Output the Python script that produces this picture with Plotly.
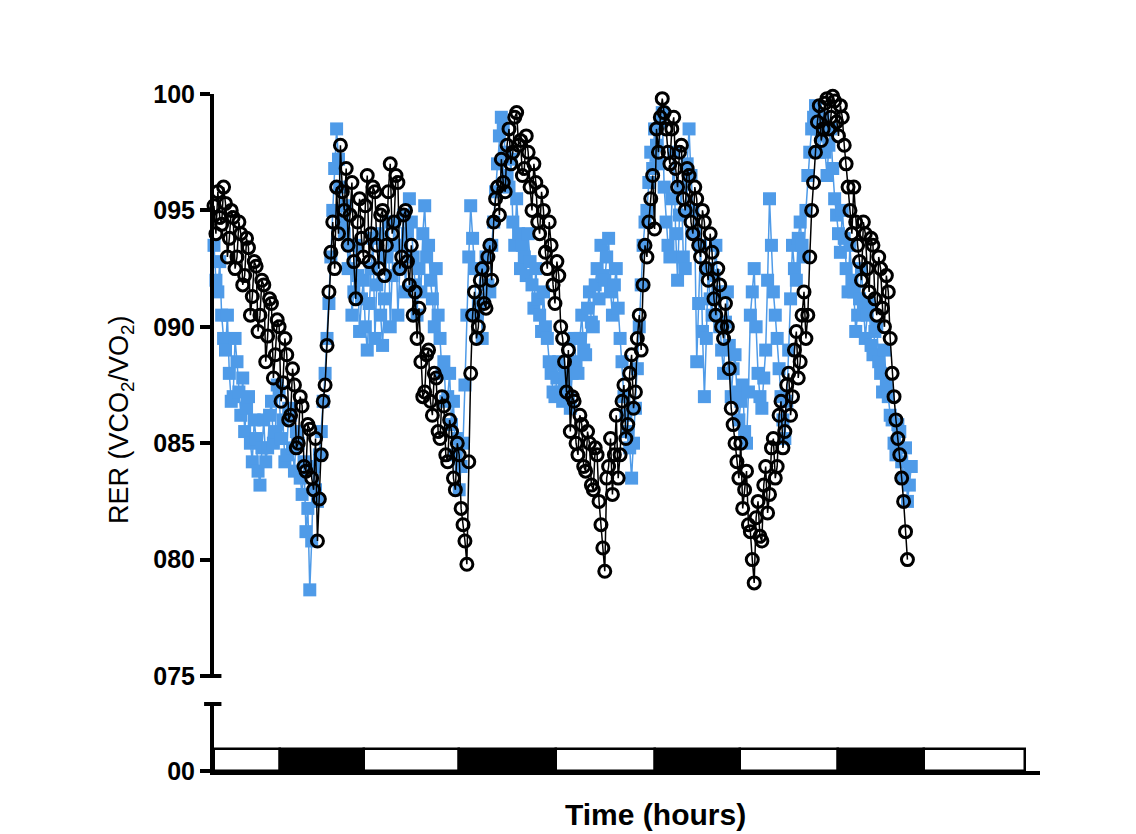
import plotly.graph_objects as go

# sampling interval of the RER recordings (hours)
step_h = 0.25

# RER, group drawn with blue squares
rer_blue = [
    0.935, 0.920, 0.915, 0.928, 0.905, 0.895, 0.890, 0.905, 0.880, 0.868,
    0.870, 0.895, 0.885, 0.872, 0.862, 0.878, 0.855, 0.865, 0.870, 0.850,
    0.842, 0.860, 0.852, 0.838, 0.832, 0.848, 0.860, 0.842, 0.848, 0.862,
    0.868, 0.850, 0.855, 0.875, 0.872, 0.852, 0.860, 0.842, 0.845, 0.865,
    0.862, 0.848, 0.838, 0.855, 0.850, 0.835, 0.828, 0.842, 0.812, 0.822,
    0.787, 0.808, 0.840, 0.830, 0.825, 0.845, 0.855, 0.868, 0.880, 0.895,
    0.910, 0.930, 0.950, 0.968, 0.985, 0.972, 0.960, 0.945, 0.940, 0.952,
    0.925, 0.935, 0.905, 0.915, 0.935, 0.922, 0.898, 0.912, 0.920, 0.900,
    0.890, 0.910, 0.925, 0.938, 0.895, 0.918, 0.940, 0.905, 0.892, 0.912,
    0.930, 0.945, 0.900, 0.922, 0.945, 0.935, 0.905, 0.925, 0.935, 0.948,
    0.915, 0.940, 0.955, 0.945, 0.930, 0.918, 0.905, 0.925, 0.915, 0.940,
    0.952, 0.930, 0.935, 0.920, 0.912, 0.900, 0.925, 0.905, 0.895, 0.880,
    0.885, 0.868, 0.870, 0.880, 0.858, 0.868, 0.845, 0.852, 0.830, 0.840,
    0.850, 0.875, 0.905, 0.930, 0.952, 0.938, 0.925, 0.905, 0.910, 0.925,
    0.895, 0.912, 0.930, 0.918, 0.915, 0.935, 0.945, 0.958, 0.970, 0.982,
    0.990, 0.985, 0.975, 0.965, 0.960, 0.972, 0.945, 0.935, 0.955, 0.940,
    0.925, 0.935, 0.930, 0.922, 0.940, 0.928, 0.918, 0.908, 0.925, 0.912,
    0.905, 0.898, 0.915, 0.900, 0.895, 0.885, 0.880, 0.872, 0.870, 0.878,
    0.885, 0.872, 0.868, 0.875, 0.880, 0.870, 0.865, 0.880, 0.895, 0.885,
    0.880, 0.895, 0.905, 0.890, 0.888, 0.908, 0.915, 0.902, 0.900, 0.918,
    0.925, 0.912, 0.935, 0.922, 0.920, 0.930, 0.938, 0.915, 0.905, 0.918,
    0.925, 0.908, 0.895, 0.885, 0.870, 0.862, 0.855, 0.848, 0.835, 0.850,
    0.865, 0.882, 0.900, 0.918, 0.935, 0.945, 0.950, 0.962, 0.975, 0.968,
    0.985, 0.978, 0.970, 0.988, 0.992, 0.960, 0.945, 0.935, 0.930, 0.955,
    0.975, 0.940, 0.920, 0.948, 0.960, 0.930, 0.925, 0.970, 0.985, 0.965,
    0.950, 0.940, 0.885, 0.910, 0.935, 0.898, 0.870, 0.895, 0.925, 0.912,
    0.905, 0.922, 0.935, 0.915, 0.900, 0.890, 0.880, 0.902, 0.915, 0.892,
    0.870, 0.882, 0.888, 0.872, 0.860, 0.868, 0.875, 0.855, 0.850, 0.872,
    0.905, 0.915, 0.925, 0.900, 0.880, 0.870, 0.865, 0.878, 0.890, 0.920,
    0.955, 0.935, 0.915, 0.905, 0.895, 0.882, 0.870, 0.860, 0.852, 0.868,
    0.890, 0.912, 0.935, 0.925, 0.920, 0.938, 0.945, 0.935, 0.930, 0.950,
    0.965, 0.975, 0.985, 0.990, 0.995, 0.985, 0.975, 0.982, 0.990, 0.975,
    0.965, 0.978, 0.985, 0.968, 0.955, 0.948, 0.940, 0.932, 0.950, 0.938,
    0.925, 0.915, 0.935, 0.920, 0.915, 0.898, 0.905, 0.912, 0.925, 0.908,
    0.895, 0.905, 0.910, 0.892, 0.888, 0.898, 0.900, 0.885, 0.880, 0.872,
    0.890, 0.875, 0.870, 0.862, 0.860, 0.850, 0.845, 0.858, 0.855, 0.842,
    0.835, 0.848, 0.825, 0.832, 0.840,
]

# RER, group drawn with open black circles
rer_black = [
    0.952, 0.940, 0.958, 0.947, 0.944, 0.960, 0.953, 0.930, 0.938, 0.950,
    0.947, 0.925, 0.930, 0.945, 0.940, 0.918, 0.922, 0.938, 0.934, 0.905,
    0.913, 0.928, 0.926, 0.898, 0.905, 0.920, 0.918, 0.885, 0.896, 0.912,
    0.910, 0.878, 0.888, 0.903, 0.900, 0.868, 0.876, 0.895, 0.888, 0.860,
    0.862, 0.882, 0.875, 0.848, 0.850, 0.870, 0.866, 0.840, 0.838, 0.858,
    0.856, 0.835, 0.830, 0.852, 0.808, 0.826, 0.845, 0.868, 0.875, 0.892,
    0.915, 0.932, 0.945, 0.925, 0.960, 0.940, 0.978, 0.958, 0.950, 0.968,
    0.935, 0.948, 0.962, 0.928, 0.912, 0.945, 0.955, 0.938, 0.930, 0.952,
    0.965, 0.928, 0.940, 0.960, 0.958, 0.935, 0.925, 0.948, 0.950, 0.922,
    0.935, 0.958, 0.970, 0.940, 0.945, 0.965, 0.962, 0.925, 0.930, 0.948,
    0.950, 0.928, 0.918, 0.935, 0.905, 0.915, 0.895, 0.908, 0.885, 0.870,
    0.872, 0.888, 0.890, 0.868, 0.862, 0.880, 0.878, 0.855, 0.852, 0.870,
    0.866, 0.845, 0.842, 0.860, 0.855, 0.835, 0.830, 0.850, 0.845, 0.822,
    0.815, 0.808, 0.798, 0.842, 0.880, 0.905, 0.915, 0.895, 0.900, 0.920,
    0.925, 0.910, 0.908, 0.930, 0.935, 0.920, 0.945, 0.955, 0.960, 0.948,
    0.972, 0.962, 0.958, 0.978, 0.985, 0.970, 0.975, 0.990, 0.992, 0.978,
    0.980, 0.965, 0.968, 0.982, 0.975, 0.960, 0.950, 0.970, 0.962, 0.945,
    0.940, 0.958, 0.950, 0.932, 0.925, 0.945, 0.935, 0.918, 0.910, 0.928,
    0.922, 0.900, 0.895, 0.885, 0.872, 0.890, 0.855, 0.870, 0.868, 0.850,
    0.845, 0.862, 0.858, 0.840, 0.838, 0.855, 0.850, 0.832, 0.830, 0.848,
    0.845, 0.825, 0.815, 0.805, 0.795, 0.835, 0.840, 0.852, 0.828, 0.845,
    0.862, 0.835, 0.845, 0.868, 0.875, 0.852, 0.858, 0.880, 0.888, 0.865,
    0.872, 0.895, 0.905, 0.890, 0.918, 0.935, 0.930, 0.945, 0.955, 0.965,
    0.942, 0.985, 0.975, 0.990, 0.998, 0.992, 0.985, 0.975, 0.970, 0.985,
    0.990, 0.968, 0.960, 0.975, 0.978, 0.955, 0.950, 0.968, 0.965, 0.945,
    0.940, 0.960, 0.955, 0.935, 0.930, 0.950, 0.945, 0.925, 0.920, 0.940,
    0.932, 0.912, 0.905, 0.925, 0.918, 0.900, 0.895, 0.910, 0.900, 0.882,
    0.865, 0.858, 0.850, 0.842, 0.835, 0.850, 0.822, 0.830, 0.838, 0.815,
    0.812, 0.800, 0.790, 0.818, 0.825, 0.810, 0.808, 0.832, 0.840, 0.820,
    0.828, 0.848, 0.852, 0.835, 0.840, 0.862, 0.868, 0.848, 0.855, 0.875,
    0.880, 0.862, 0.870, 0.890, 0.898, 0.878, 0.885, 0.905, 0.915, 0.895,
    0.905, 0.930, 0.950, 0.962, 0.975, 0.988, 0.995, 0.980, 0.985, 0.996,
    0.998, 0.985, 0.990, 0.999, 0.997, 0.988, 0.982, 0.995, 0.990, 0.978,
    0.970, 0.960, 0.950, 0.940, 0.960, 0.945, 0.935, 0.928, 0.920, 0.945,
    0.940, 0.925, 0.915, 0.938, 0.935, 0.912, 0.905, 0.930, 0.925, 0.908,
    0.900, 0.922, 0.915, 0.895, 0.880, 0.870, 0.860, 0.852, 0.845, 0.835,
    0.825, 0.812, 0.800,
]

# light / dark schedule (hours): phase edges and colours
phase_edges = [0, 8.6, 19.6, 32.0, 44.6, 57.6, 68.7, 81.5, 92.6, 105.9]
phase_colors = ['white', 'black', 'white', 'black', 'white',
                'black', 'white', 'black', 'white']

rer_ticks = [0.75, 0.80, 0.85, 0.90, 0.95, 1.00]
rer_ticktext = ['075', '080', '085', '090', '095', '100']

t_blue = [i * step_h for i in range(len(rer_blue))]
t_black = [i * step_h for i in range(len(rer_black))]

phase_mid = [(a + b) / 2 for a, b in zip(phase_edges[:-1], phase_edges[1:])]
phase_len = [b - a for a, b in zip(phase_edges[:-1], phase_edges[1:])]

FONT = 'Liberation Sans, Arial, sans-serif'
BLUE = '#4f9be8'

fig = go.Figure()

fig.add_trace(go.Scatter(
    x=t_blue, y=rer_blue, mode='lines+markers', cliponaxis=False,
    line=dict(color=BLUE, width=1.5),
    marker=dict(symbol='square', size=13, color=BLUE),
    showlegend=False))

fig.add_trace(go.Scatter(
    x=t_black, y=rer_black, mode='lines+markers', cliponaxis=False,
    line=dict(color='black', width=1.5),
    marker=dict(symbol='circle-open', size=12, color='black', line=dict(width=3)),
    showlegend=False))

# light/dark bar under the break
fig.add_trace(go.Bar(
    x=phase_mid, y=[0.01] * len(phase_mid), width=phase_len, base=0,
    yaxis='y2', marker=dict(color=phase_colors, line=dict(color='black', width=2.5)),
    showlegend=False))

axis_style = dict(showline=True, linecolor='black', linewidth=4, automargin=False,
                  ticks='outside', ticklen=10, tickwidth=4, tickcolor='black',
                  showgrid=False, zeroline=False,
                  tickfont=dict(family=FONT, size=25, color='black', weight='bold'))

fig.update_layout(
    width=1136, height=834,
    margin=dict(l=0, r=0, t=0, b=0, pad=0, autoexpand=False),
    paper_bgcolor='white', plot_bgcolor='white',
    bargap=0,
    xaxis=dict(domain=[214 / 1136, 1040 / 1136], range=[0, 107.8], anchor='y2',
               showline=True, linecolor='black', linewidth=4, automargin=False,
               showticklabels=False, ticks='', showgrid=False, zeroline=False),
    yaxis=dict(axis_style, domain=[1 - 676 / 834, 1 - 94 / 834], range=[0.75, 1.0],
               tickvals=rer_ticks, ticktext=rer_ticktext, anchor='x'),
    yaxis2=dict(axis_style, domain=[1 - 771 / 834, 1 - 704 / 834], range=[0, 0.03],
                tickvals=[0], ticktext=['00'], anchor='x'),
    annotations=[
        dict(text='RER (VCO<sub>2</sub>/VO<sub>2</sub>)', textangle=-90,
             xref='paper', yref='paper', x=121 / 1136, y=1 - 420 / 834,
             xanchor='center', yanchor='middle',
             showarrow=False, font=dict(family=FONT, size=27, color='black')),
        dict(text='Time (hours)', xref='paper', yref='paper',
             x=655 / 1136, y=1 - 814 / 834, xanchor='center', yanchor='middle',
             showarrow=False,
             font=dict(family=FONT, size=30, color='black', weight='bold')),
    ],
    shapes=[
        # break caps of the two y-axis pieces
        dict(type='line', xref='x domain', yref='y domain', x0=-0.014, x1=0.009,
             y0=0, y1=0, line=dict(color='black', width=4)),
        dict(type='line', xref='x domain', yref='y2 domain', x0=-0.012, x1=0.009,
             y0=1, y1=1, line=dict(color='black', width=4)),
    ],
)

fig.write_html('out.html', config={'displayModeBar': False},
               post_script="document.body.style.margin='0';")
